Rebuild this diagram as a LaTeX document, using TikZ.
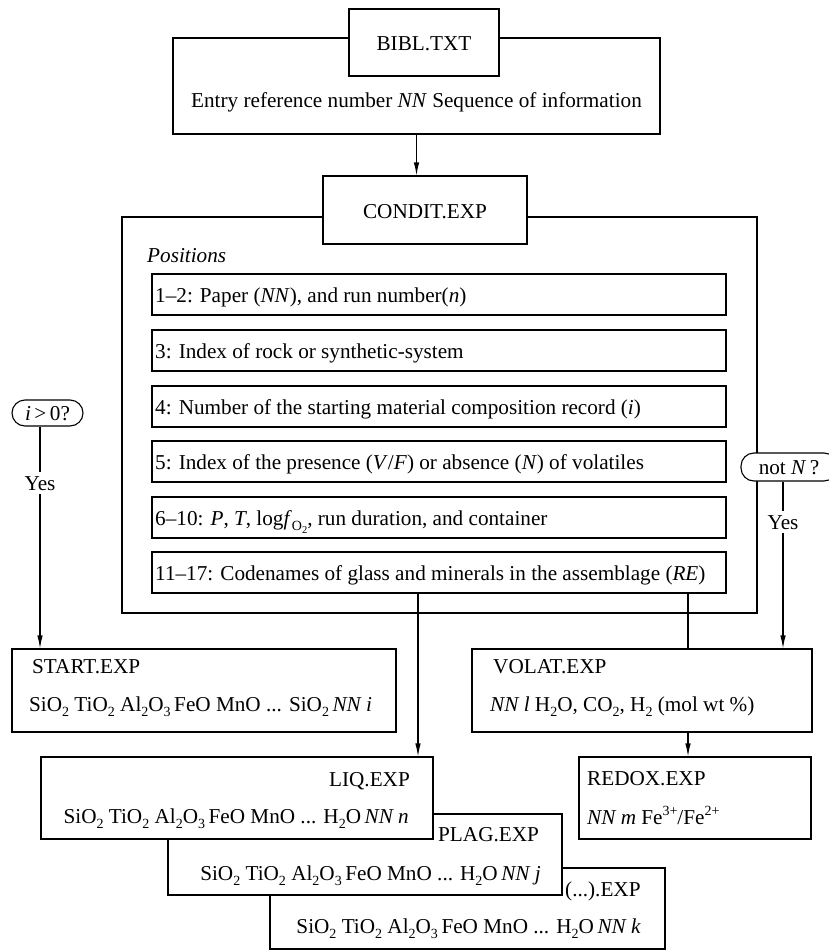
\documentclass[tikz,border=0pt]{standalone}
\usepackage{fontspec}
\setmainfont{Liberation Serif}
\usetikzlibrary{arrows.meta}
\newcommand\sbx[1]{\raisebox{-0.28em}{\fontsize{14}{14}\selectfont #1}}
\newcommand\ssbx[1]{\raisebox{-0.2em}{\fontsize{10.5}{10.5}\selectfont #1}}
\newcommand\spx[1]{\raisebox{0.42em}{\fontsize{14}{14}\selectfont #1}}
\begin{document}
\begin{tikzpicture}[x=1pt,y=-1pt,
  font=\fontsize{21.2}{25}\selectfont,
  bx/.style={draw, line width=1.1pt, fill=white, inner sep=0pt, rectangle},
  rbx/.style={bx, rounded corners=13pt},
  txt/.style={inner sep=0pt, anchor=base west},
  txte/.style={inner sep=0pt, anchor=base east},
  txtc/.style={inner sep=0pt, anchor=base},
  arr/.style={line width=1.1pt, -{Latex[length=13pt,width=5.5pt]}},
  ln/.style={line width=1.1pt},
  yes/.style={fill=white, inner sep=4pt}]
\useasboundingbox (0,0) rectangle (829,950);

% BIBL
\node[bx, minimum width=487pt, minimum height=96pt] (biblB) at (416.5,86) {};
\node[bx, minimum width=150pt, minimum height=67pt] (biblS) at (424,42.5) {};
\node[txtc] (biblT) at (424,51) {BIBL.TXT};
\node[txtc] (entry) at (416.5,107) {Entry reference number \textit{NN} Sequence of information};

% CONDIT
\node[bx, minimum width=635pt, minimum height=396pt] (conB) at (439.5,415) {};
\node[bx, minimum width=204pt, minimum height=68pt] (conS) at (425,210) {};
\node[txtc] (conT) at (425,218) {CONDIT.EXP};
\draw[arr] (biblB.south) -- (biblB.south |- conS.north);
\node[txt] (pos) at (147,262) {\textit{Positions}};

\node[bx, minimum width=574pt, minimum height=41pt] (p1) at (439,294.5) {};
\node[bx, minimum width=574pt, minimum height=41pt] (p2) at (439,350.5) {};
\node[bx, minimum width=574pt, minimum height=41pt] (p3) at (439,406.5) {};
\node[bx, minimum width=574pt, minimum height=41pt] (p4) at (439,461.5) {};
\node[bx, minimum width=574pt, minimum height=41pt] (p5) at (439,517.5) {};
\node[bx, minimum width=574pt, minimum height=41pt] (p6) at (439,572.5) {};
\node[txt] (t1) at (155,302) {1--2: Paper (\textit{NN}), and run number(\textit{n})};
\node[txt] (t2) at (155,358) {3: Index of rock or synthetic-system};
\node[txt] (t3) at (155,414) {4: Number of the starting material composition record (\textit{i})};
\node[txt] (t4) at (155,469) {5: Index of the presence (\textit{V}/\textit{F}) or absence (\textit{N}) of volatiles};
\node[txt] (t5) at (155,525) {6--10: \textit{P}, \textit{T}, log\textit{f}\sbx{O\ssbx{2}}, run duration, and container};
\node[txt] (t6) at (155,580) {11--17: Codenames of glass and minerals in the assemblage (\textit{RE})};

% decisions
\node[rbx, minimum width=71pt, minimum height=26pt] (ig) at (47.5,413) {};
\node[txtc] (igT) at (47.5,420) {\textit{i}\,>\,0?};
\node[rbx, minimum width=96pt, minimum height=28pt] (nn) at (789,467) {};
\node[txtc] (nnT) at (789,474) {not \textit{N}\,?};

% START, VOLAT, REDOX
\node[bx, minimum width=384pt, minimum height=83pt] (start) at (204,690.5) {};
\node[txt] (startT) at (32,673) {START.EXP};
\node[txt] (startF) at (29,711) {SiO\sbx{2} TiO\sbx{2} Al\sbx{2}O\sbx{3}\,FeO MnO ... SiO\sbx{2}\,\textit{NN i}};
\node[bx, minimum width=340pt, minimum height=83pt] (volat) at (642,690.5) {};
\node[txt] (volatT) at (493,673) {VOLAT.EXP};
\node[txt] (volatF) at (490,711) {\textit{NN l} H\sbx{2}O, CO\sbx{2}, H\sbx{2} (mol wt \%)};
\node[bx, minimum width=232pt, minimum height=82pt] (redox) at (695,798) {};
\node[txt] (redoxT) at (587,785) {REDOX.EXP};
\node[txt] (redoxF) at (587,824) {\textit{NN m} Fe\spx{3+}/Fe\spx{2+}};

% stacked
\node[bx, minimum width=395pt, minimum height=81pt] (dots) at (467.5,908.5) {};
\node[txt] (dotsT) at (565,896) {(...).EXP};
\node[txte] (dotsF) at (641,933) {SiO\sbx{2} TiO\sbx{2} Al\sbx{2}O\sbx{3}\,FeO MnO ... H\sbx{2}O\,\textit{NN k}};
\node[bx, minimum width=394pt, minimum height=81pt] (plag) at (365,854.5) {};
\node[txt] (plagT) at (438,841) {PLAG.EXP};
\node[txte] (plagF) at (541,880) {SiO\sbx{2} TiO\sbx{2} Al\sbx{2}O\sbx{3}\,FeO MnO ... H\sbx{2}O\,\textit{NN j}};
\node[bx, minimum width=392pt, minimum height=82pt] (liq) at (237,798) {};
\node[txte] (liqT) at (410,786) {LIQ.EXP};
\node[txte] (liqF) at (409,823) {SiO\sbx{2} TiO\sbx{2} Al\sbx{2}O\sbx{3}\,FeO MnO ... H\sbx{2}O\,\textit{NN n}};

% connectors
\draw[arr] ([xshift=-21pt]p6.south) -- ([xshift=-21pt]p6.south |- liq.north);
\draw[ln] ([xshift=249pt]p6.south) -- ([xshift=249pt]p6.south |- volat.north);
\draw[arr] ([xshift=46pt]volat.south) -- ([xshift=46pt]volat.south |- redox.north);
\draw[arr] ([xshift=-7.5pt]ig.south) -- node[yes, pos=0.256] (yesL) {Yes} ([xshift=-7.5pt]ig.south |- start.north);
\draw[arr] ([xshift=-6pt]nn.south) -- node[yes, pos=0.244] (yesR) {Yes} ([xshift=-6pt]nn.south |- volat.north);
\end{tikzpicture}
\end{document}
